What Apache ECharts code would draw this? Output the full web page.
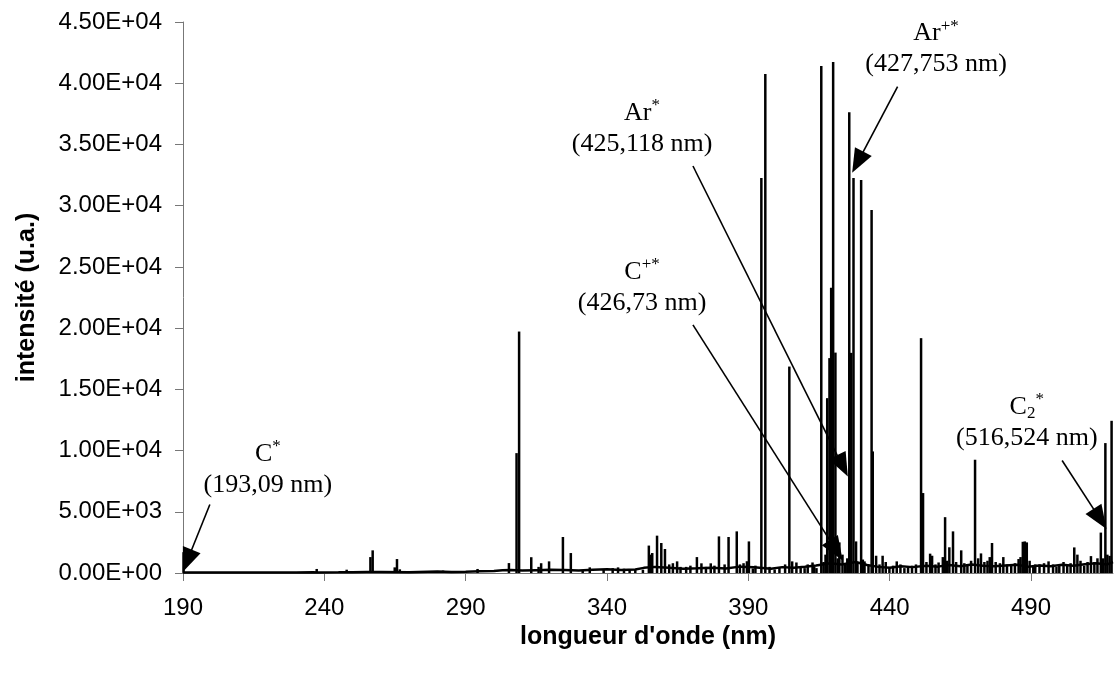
<!DOCTYPE html>
<html>
<head>
<meta charset="utf-8">
<script src="https://cdn.jsdelivr.net/npm/echarts@6/dist/echarts.min.js"></script>
<style>
html,body{margin:0;padding:0;background:#fff;}
#c{width:1115px;height:673px;}
</style>
</head>
<body>
<div id="c"></div>
<script>
// ---- data ----
const xTicks = [190, 240, 290, 340, 390, 440, 490];

// emission lines (wavelength nm, intensity u.a.)
const peakNm = [190.2, 237.3, 247.9, 252.3, 256.3, 257.1, 264.9, 265.7, 266.7, 272.0, 282.0, 294.2,
  305.3, 308.0, 308.9, 313.2, 315.8, 316.7, 319.5, 324.4, 327.2, 331.4, 333.9, 338.8, 343.9, 348.0,
  352.7, 354.8, 355.4, 356.0, 357.7, 359.2, 360.5, 363.3, 364.8, 366.0, 371.8, 373.4, 376.7, 379.6,
  381.6, 383.0, 385.9, 389.5, 390.2, 391.6, 394.6, 396.0, 399.3, 404.5, 405.5, 407.0, 409.9, 412.7,
  414.1, 415.8, 417.3, 417.9, 418.7, 419.3, 420.0, 420.8, 422.2, 423.3, 425.0, 425.7, 426.4, 427.2,
  428.1, 428.6, 429.9, 431.1, 432.5, 433.6, 434.0, 435.2, 437.5, 439.9, 442.5, 445.2, 447.9, 451.1,
  451.8, 454.3, 455.0, 457.3, 458.8, 459.6, 461.1, 462.4, 465.3, 467.5, 470.2, 472.3, 474.6, 476.2,
  480.2, 483.0, 485.6, 487.1, 487.8, 488.5, 491.5, 496.2, 500.0, 502.8, 505.3, 506.4, 508.8, 511.2,
  512.4, 513.5, 514.7, 516.3, 517.0, 518.5];
const peakVal = [1700, 330, 270, 150, 1300, 1850, 460, 1140, 300, 150, 200, 330,
  810, 9790, 19720, 1290, 500, 800, 950, 2940, 1630, 250, 460, 300, 460, 300,
  270, 2240, 1500, 1630, 3050, 2450, 1960, 800, 950, 500, 1300, 790, 790, 2990,
  700, 2940, 3400, 960, 2580, 370, 32260, 40750, 290, 16860, 950, 860, 400, 860,
  400, 41400, 1500, 14280, 17550, 23300, 41730, 18000, 2500, 1500, 1200, 37620, 17980, 32260,
  2580, 900, 32100, 950, 600, 29650, 9930, 1410, 1410, 500, 950, 400, 600, 19180,
  6530, 1580, 1410, 860, 1300, 4560, 2100, 3400, 1850, 700, 9250, 1600, 1000, 2450,
  1300, 600, 1140, 2550, 2580, 2500, 700, 950, 600, 700, 2090, 1500, 600, 1380,
  900, 1200, 3300, 10610, 1500, 12430];

// weak lines in the noise band
const minorNm = [342.0, 346.0, 350.0, 362.0, 368.0, 369.5, 375.0, 378.0, 387.0, 388.3, 392.5, 397.5,
  401.0, 403.0, 408.5, 411.0, 413.3, 416.6, 421.6, 424.2, 430.5, 436.4, 438.6, 441.2, 443.8, 446.5,
  449.3, 453.0, 456.2, 460.3, 463.5, 466.4, 468.8, 471.3, 473.5, 475.4, 477.5, 479.0, 481.5, 484.3,
  486.3, 489.5, 490.8, 493.0, 494.6, 497.8, 499.0, 501.5, 504.0, 507.5, 510.0, 515.5, 517.8];
const minorVal = [400, 350, 300, 700, 500, 600, 500, 600, 700, 800, 600, 500,
  450, 700, 550, 700, 500, 900, 1200, 800, 1100, 700, 900, 600, 700, 500,
  700, 900, 700, 1000, 900, 800, 1000, 1200, 900, 1300, 900, 800, 700, 800,
  1300, 1000, 600, 700, 800, 700, 500, 900, 800, 1000, 900, 1200, 1400];

// continuum / noise floor
const baseNm = [190, 200, 210, 220, 230, 236, 238, 245, 250, 255, 260, 270, 280, 285, 290, 295, 300, 303,
  306, 310, 315, 320, 325, 330, 335, 340, 345, 350, 353, 357, 362, 367, 372, 377, 382, 387, 392, 398,
  402, 406, 410, 414, 419, 423, 428, 432, 436, 440, 444, 448, 453, 457, 461, 465, 469, 473, 477, 481,
  485, 489, 493, 497, 501, 505, 509, 513, 517, 519];
const baseVal = [40, 40, 40, 40, 45, 60, 50, 60, 70, 80, 90, 70, 120, 80, 100, 140, 160, 220,
  250, 200, 230, 260, 240, 210, 260, 300, 240, 280, 420, 500, 430, 350, 380, 420, 360, 520, 460, 350,
  480, 420, 510, 620, 800, 700, 900, 650, 500, 420, 560, 480, 600, 520, 650, 560, 700, 600, 560, 620,
  680, 520, 620, 560, 680, 600, 720, 800, 700, 900];

// annotations: label text, label anchor [nm, value], arrow start [nm, value], arrow head [nm, value]
const annText = [
  '{m|C}{s|*}\n{m|(193,09 nm)}',
  '{m|Ar}{s|+*}\n{m|(427,753 nm)}',
  '{m|Ar}{s|*}\n{m|(425,118 nm)}',
  '{m|C}{s|+*}\n{m|(426,73 nm)}',
  '{m|C}{b|2}{s|*}\n{m|(516,524 nm)}'
];
const annPos = [[220.0, 8430], [456.4, 42790], [352.4, 36260], [352.4, 23290], [488.5, 12270]];
const arrowFrom = [[199.5, 5590], [442.8, 39720], [370.4, 33240], [370.4, 20270], [501.0, 9190]];
const arrowTo = [[191.5, 1000], [428.7, 33550], [423.3, 8750], [421.1, 1850], [514.4, 4420]];

// ---- chart ----
function sci(v) {
  if (v === 0) return '0.00E+00';
  const e = Math.floor(Math.log10(v) + 1e-9);
  const m = v / Math.pow(10, e);
  return m.toFixed(2) + 'E+' + String(e).padStart(2, '0');
}

const chart = echarts.init(document.getElementById('c'));
const sans = 'Liberation Sans, Arial, sans-serif';
const serif = 'Liberation Serif, Times New Roman, serif';

const lines = peakNm.map((x, i) => [x, peakVal[i]])
  .concat(minorNm.map((x, i) => [x, minorVal[i]]));

const option = {
  animation: false,
  grid: { left: 183, right: 2, top: 22, bottom: 100 },
  xAxis: {
    type: 'value', min: 190, max: 519,
    name: "longueur d'onde (nm)", nameLocation: 'middle', nameGap: 45,
    nameTextStyle: { fontFamily: sans, fontWeight: 'bold', fontSize: 25, color: '#000' },
    axisLine: { lineStyle: { color: '#777', width: 1 } },
    axisTick: { customValues: xTicks, length: 8, lineStyle: { color: '#777' } },
    axisLabel: { customValues: xTicks, margin: 23, fontSize: 24, fontFamily: sans, color: '#000' },
    splitLine: { show: false }
  },
  yAxis: {
    type: 'value', min: 0, max: 45000, interval: 5000,
    name: 'intensité (u.a.)', nameLocation: 'middle', nameGap: 143,
    nameTextStyle: { fontFamily: sans, fontWeight: 'bold', fontSize: 25, color: '#000' },
    axisLine: { show: true, lineStyle: { color: '#777', width: 1 } },
    axisTick: { show: true, length: 8, lineStyle: { color: '#777' } },
    axisLabel: { margin: 21, fontSize: 24, fontFamily: sans, color: '#000', formatter: sci },
    splitLine: { show: false }
  },
  series: [
    {
      type: 'line',
      data: baseNm.map((x, i) => [x, baseVal[i]]),
      symbol: 'none',
      lineStyle: { color: '#000', width: 2.5 },
      z: 2,
      markLine: {
        silent: true,
        symbol: ['none', 'triangle'],
        symbolSize: [19, 24],
        lineStyle: { color: '#000', width: 1.6, type: 'solid' },
        label: { show: false },
        data: arrowFrom.map((f, i) => [{ coord: f }, { coord: arrowTo[i] }]),
        z: 10
      },
      markPoint: {
        silent: true,
        symbol: 'rect', symbolSize: 1,
        itemStyle: { color: 'rgba(0,0,0,0)' },
        label: {
          show: true, position: 'inside', align: 'center',
          rich: {
            m: { fontFamily: serif, fontSize: 26, lineHeight: 31, color: '#000' },
            s: { fontFamily: serif, fontSize: 17, lineHeight: 31, color: '#000', padding: [0, 0, 15, 0] },
            b: { fontFamily: serif, fontSize: 17, lineHeight: 31, color: '#000', padding: [12, 0, 0, 0] }
          }
        },
        data: annPos.map((p, i) => ({ coord: p, label: { formatter: annText[i] } }))
      }
    },
    {
      type: 'bar',
      data: lines,
      barWidth: 2.5,
      itemStyle: { color: '#000' },
      z: 3
    }
  ]
};
chart.setOption(option);
</script>
</body>
</html>
